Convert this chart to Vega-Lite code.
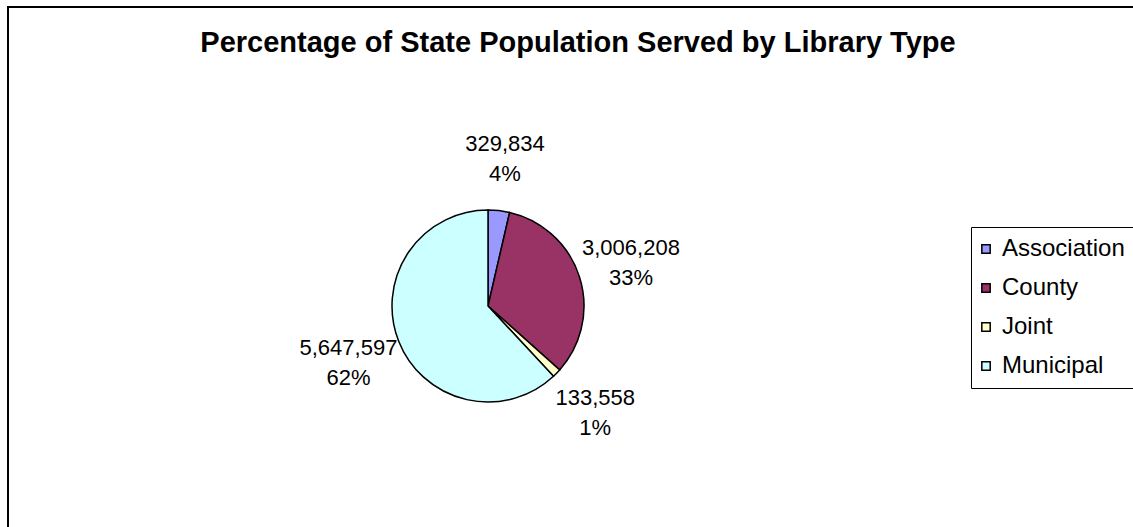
{
  "$schema": "https://vega.github.io/schema/vega-lite/v6.json",
  "width": 1140,
  "height": 530,
  "autosize": {"type": "none"},
  "padding": {"left": 8, "top": 7, "right": 0, "bottom": 0},
  "background": "white",
  "title": {
    "text": "Percentage of State Population Served by Library Type",
    "font": "Liberation Sans",
    "fontSize": 29,
    "fontWeight": "bold",
    "color": "black",
    "anchor": "middle",
    "orient": "top",
    "offset": -51
  },
  "config": {
    "view": {"stroke": "black", "strokeWidth": 2},
    "style": {
      "view": {"stroke": "black", "strokeWidth": 2},
      "cell": {"stroke": "black", "strokeWidth": 2}
    }
  },
  "data": {
    "values": [
      {"type": "Association", "population": 329834, "pct": "4%"},
      {"type": "County", "population": 3006208, "pct": "33%"},
      {"type": "Joint", "population": 133558, "pct": "1%"},
      {"type": "Municipal", "population": 5647597, "pct": "62%"}
    ]
  },
  "transform": [
    {"calculate": "[format(datum.population, ','), datum.pct]", "as": "label"}
  ],
  "encoding": {
    "theta": {"field": "population", "type": "quantitative", "stack": true},
    "order": {"field": "type", "type": "ordinal", "sort": "ascending"}
  },
  "layer": [
    {
      "mark": {"type": "arc", "outerRadius": 96, "stroke": "black", "strokeWidth": 1.5, "x": 480, "y": 299},
      "encoding": {
        "color": {
          "field": "type",
          "type": "nominal",
          "scale": {
            "domain": ["Association", "County", "Joint", "Municipal"],
            "range": ["#9999FF", "#993366", "#FFFFCC", "#CCFFFF"]
          },
          "legend": {
            "orient": "none",
            "legendX": 963,
            "legendY": 220,
            "title": null,
            "strokeColor": "black",
            "padding": 10,
            "symbolType": "square",
            "symbolSize": 70,
            "symbolStrokeColor": "black",
            "symbolStrokeWidth": 1.5,
            "symbolOpacity": 1,
            "symbolOffset": -7,
            "labelFont": "Liberation Sans",
            "labelFontSize": 24,
            "labelColor": "black",
            "labelOffset": 4,
            "labelLimit": 400,
            "rowPadding": 15
          }
        }
      }
    },
    {
      "mark": {
        "type": "text",
        "radius": 150,
        "x": 480,
        "y": 299,
        "dy": -13,
        "font": "Liberation Sans",
        "fontSize": 22,
        "lineHeight": 30,
        "align": "center",
        "baseline": "middle"
      },
      "encoding": {
        "text": {"field": "label"},
        "detail": {"field": "type", "type": "nominal"},
        "color": {"value": "black"}
      }
    }
  ]
}
